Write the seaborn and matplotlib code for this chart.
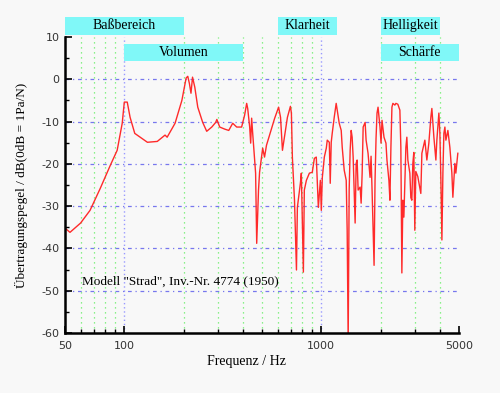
import numpy as np
import pandas as pd
import matplotlib
matplotlib.use('Agg')
import matplotlib.pyplot as plt
import matplotlib.transforms as mtransforms
from matplotlib.ticker import FixedLocator, NullFormatter
import seaborn as sns

# Frequenzgang
freq = [50, 53, 60, 67, 75.5, 85, 92, 97.6, 100, 103.5, 107, 113, 131, 147, 161, 165, 181, 196,
        206, 210, 214, 218, 222, 228, 236, 250, 262, 278, 291, 295, 305, 324, 339, 355, 372, 394,
        408, 418, 423, 433, 438, 443, 448, 464, 470, 480, 486, 497, 504, 515, 527, 546, 579, 607,
        621, 635, 650, 673, 697, 705, 713, 731, 748, 756, 783, 792, 811, 820, 840, 870, 900, 922,
        943, 954, 966, 989, 1000, 1012, 1036, 1060, 1072, 1098, 1110, 1123, 1136, 1163, 1190, 1204,
        1233, 1262, 1277, 1307, 1338, 1353, 1369, 1385, 1401, 1418, 1434, 1451, 1485, 1503, 1520,
        1538, 1574, 1593, 1612, 1631, 1669, 1688, 1727, 1768, 1789, 1810, 1853, 1874, 1896, 1918,
        1941, 1986, 2010, 2033, 2081, 2129, 2154, 2204, 2230, 2256, 2283, 2309, 2363, 2391, 2446,
        2505, 2534, 2564, 2594, 2625, 2687, 2718, 2750, 2815, 2848, 2881, 2915, 2949, 2983, 3018,
        3089, 3200, 3240, 3355, 3434, 3515, 3598, 3641, 3728, 3816, 3860, 3952, 3999, 4046, 4094,
        4142, 4190, 4240, 4290, 4391, 4494, 4600, 4654, 4764, 4819, 4932]
level = [-35.2, -36.2, -34, -31, -25.8, -20.3, -16.8, -10.4, -5.4, -5.4, -9, -12.8, -14.9, -14.7,
         -13.2, -13.7, -10.4, -5, 0.3, 0.7, -1, -3.3, 0.5, -1.9, -6.6, -10.2, -12.3, -11.3, -10.2,
         -9.5, -11.3, -11.8, -12.1, -10.4, -11.3, -11.3, -8.5, -5.7, -6.9, -11.3, -15.1, -9.2,
         -12.5, -22.2, -38.8, -26.2, -22, -18.4, -16.3, -18.4, -15.6, -13.2, -9.3, -6.6, -9, -16.8,
         -13.7, -9, -6.4, -8, -18.4, -28.6, -45.1, -30.3, -24.6, -22.2, -45.6, -26.2, -23.9, -22.2,
         -22, -18.7, -18.4, -23.9, -30.3, -23.9, -31, -23.2, -18.4, -16.3, -14.4, -14.9, -24.6,
         -14.9, -12.8, -9, -5.7, -7.3, -10.4, -12.1, -16.1, -21.5, -23.9, -35.7, -62, -26.2, -16.8,
         -12.1, -13.7, -18.4, -34, -19.9, -19.1, -26.2, -25.5, -29.3, -22.2, -11.3, -10.2, -14.4,
         -17.5, -23.2, -18.2, -26.2, -44, -23.9, -14, -8, -6.6, -11.3, -15.1, -9.7, -13.7, -15.1,
         -19.1, -23.9, -28.6, -16.1, -6.6, -5.7, -6.1, -5.7, -5.9, -7.3, -16.1, -45.8, -28.6,
         -32.6, -16.1, -13.7, -19.1, -22.2, -28, -28.6, -19.9, -17.3, -35.7, -21.8, -23, -27,
         -17.5, -14.4, -19.1, -15.1, -9, -6.9, -13.7, -19.1, -14.4, -8, -12.8, -23.9, -38, -22.2,
         -12.8, -11.3, -14.4, -12.1, -16.1, -22.2, -27.9, -19.9, -22.2, -17.5]

# Bereiche (Beschriftung, von, bis, Zeile)
band_names = ['Baßbereich', 'Volumen', 'Klarheit', 'Helligkeit', 'Schärfe']
band_lo = [50, 100, 600, 2000, 2000]
band_hi = [200, 400, 1200, 4000, 5000]
band_row = [0, 1, 0, 0, 1]

grid_minor = [60, 70, 80, 90, 200, 300, 400, 500, 600, 700, 800, 900, 2000, 3000, 4000]
xtick_vals = [50, 100, 1000, 5000]
ytick_vals = [10, 0, -10, -20, -30, -40, -50, -60]

plt.rcParams['axes.unicode_minus'] = False
bg = '#f8f8f8'
serif = ['Liberation Serif', 'DejaVu Serif']

fig = plt.figure(figsize=(5, 3.93), dpi=100, facecolor=bg)
ax = fig.add_axes([0.13, 0.1527, 0.788, 0.7532], facecolor=bg)
ax.set_xscale('log')

df = pd.DataFrame({'f': freq, 'L': level})
sns.lineplot(data=df, x='f', y='L', sort=False, estimator=None, color='#ff2a2a', lw=1.0, ax=ax)

ax.set_xlim(50, 5000)
ax.set_ylim(-60, 10)

# Gitter
for g in grid_minor:
    ax.axvline(g, color='#66ee66', ls=(0, (1, 3)), lw=0.9, zorder=0)
for g in [100, 1000]:
    ax.axvline(g, color='#9999ff', ls=(0, (1, 2)), lw=1.0, zorder=0)
for g in ytick_vals[1:-1]:
    ax.axhline(g, color='#7777ee', ls=(0, (3, 3, 1, 3)), lw=0.9, zorder=0)

# Achsen
for s in ['top', 'right']:
    ax.spines[s].set_visible(False)
for s in ['left', 'bottom']:
    ax.spines[s].set_linewidth(1.8)
    ax.spines[s].set_color('black')

ax.xaxis.set_major_locator(FixedLocator(xtick_vals))
ax.set_xticklabels([str(v) for v in xtick_vals])
ax.xaxis.set_minor_locator(FixedLocator(grid_minor))
ax.xaxis.set_minor_formatter(NullFormatter())
ax.set_yticks(ytick_vals)
ax.yaxis.set_minor_locator(FixedLocator(list(range(-55, 10, 10))))
ax.tick_params(axis='both', which='major', direction='in', length=5, width=1.2,
               labelsize=8, labelcolor='#333333', pad=4)
ax.tick_params(axis='both', which='minor', direction='in', length=3, width=1.0)
ax.tick_params(axis='x', which='major', pad=6)

ax.set_xlabel('Frequenz / Hz', family=serif, fontsize=10)
ax.set_ylabel('Übertragungspegel / dB(0dB = 1Pa/N)', family=serif, fontsize=9.5)
ax.xaxis.set_label_coords(0.46, -0.075)
ax.yaxis.set_label_coords(-0.095, 0.5)

# Bereichsbalken
trans = mtransforms.blended_transform_factory(ax.transData, ax.transAxes)
row_y = [(1.007, 1.068), (0.919, 0.976)]
for name, lo, hi, r in zip(band_names, band_lo, band_hi, band_row):
    y0, y1 = row_y[r]
    ax.add_patch(plt.Rectangle((lo, y0), hi - lo, y1 - y0, transform=trans,
                               facecolor='#80f8f8', edgecolor='none', clip_on=False, zorder=3))
    ax.text(np.sqrt(lo * hi), (y0 + y1) / 2, name, transform=trans, ha='center', va='center',
            family=serif, fontsize=10, zorder=4)

ax.text(60.7, -47.8, 'Modell "Strad", Inv.-Nr. 4774 (1950)', family=serif, fontsize=9.5,
        va='center', ha='left')

fig.savefig('out.png', dpi=100, facecolor=bg)
